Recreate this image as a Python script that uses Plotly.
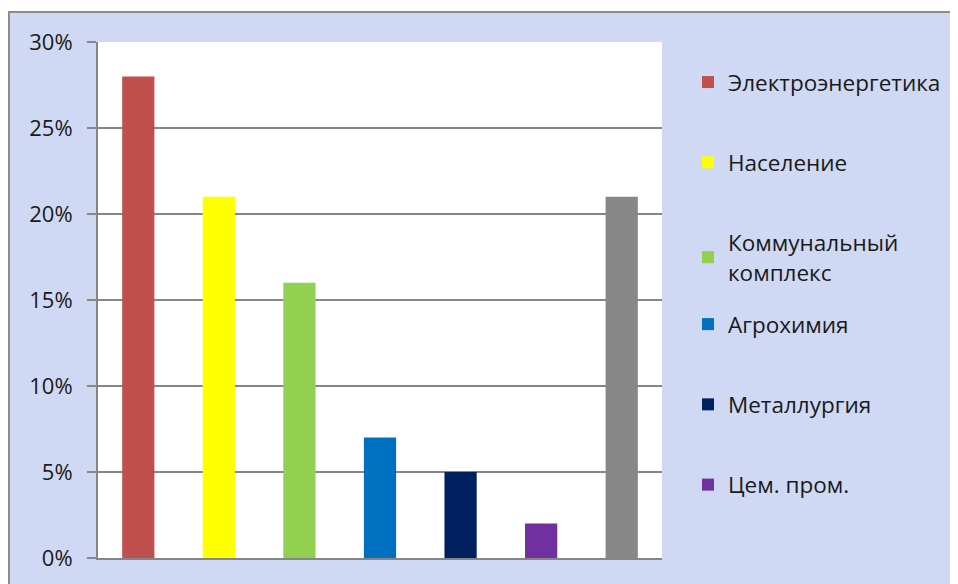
import plotly.graph_objects as go

# данные диаграммы (доли потребления)
categories = ["Электроэнергетика", "Население", "Коммунальный<br>комплекс",
              "Агрохимия", "Металлургия", "Цем. пром.", "Прочее"]
shares = [0.28, 0.21, 0.16, 0.07, 0.05, 0.02, 0.21]
in_legend = [True, True, True, True, True, True, False]

colors = ["#C0504D", "#FFFF00", "#92D050", "#0070C0", "#002060", "#7030A0", "#878787"]

# страница имеет отступ 8px, поэтому фигура чуть меньше окна
OFF = 8
W, H = 958 - OFF, 584 - OFF
L, R, T, B = 98 - OFF, 958 - 662, 42 - OFF, 584 - 560
pw, ph = W - L - R, H - T - B


def px_x(x):
    return (x - OFF - L) / pw


def px_y(y):
    return (H - B - (y - OFF)) / ph


fig = go.Figure()
for i, (cat, val) in enumerate(zip(categories, shares)):
    fig.add_trace(go.Bar(
        x=[cat], y=[val], name=cat,
        marker=dict(color=colors[i], line=dict(width=0)),
        width=0.4,
        showlegend=in_legend[i],
        legendgroup=f"g{i}",
        legend="legend" if i < 3 else "legend2",
    ))

grid = "#868686"
font = dict(family="'Open Sans', Lato, sans-serif", size=22, color="#1a1a1a")
legend_font = dict(font, size=22.5)

fig.update_layout(
    width=W, height=H, autosize=False,
    margin=dict(l=L, r=R, t=T, b=B),
    paper_bgcolor="white",
    plot_bgcolor="white",
    barmode="overlay",
    font=font,
    legend=dict(x=px_x(688), y=px_y(61), xanchor="left", yanchor="top",
                bgcolor="rgba(0,0,0,0)", tracegroupgap=48, font=legend_font),
    legend2=dict(x=px_x(688), y=px_y(304), xanchor="left", yanchor="top",
                 bgcolor="rgba(0,0,0,0)", tracegroupgap=48, font=legend_font),
    shapes=[
        # фон слайда
        dict(type="rect", xref="paper", yref="paper", layer="below",
             x0=px_x(9), x1=px_x(970), y0=px_y(600), y1=px_y(12),
             fillcolor="#cfd9f3", line=dict(color="#8c8c8c", width=2)),
        # белая область построения
        dict(type="rect", xref="paper", yref="paper", layer="below",
             x0=0, x1=1, y0=0, y1=1, fillcolor="white", line=dict(width=0)),
    ],
)

fig.update_xaxes(showticklabels=False, ticks="", showgrid=False,
                 showline=True, linecolor=grid, linewidth=2)
fig.update_yaxes(range=[0, 0.3], dtick=0.05, tickformat=".0%",
                 showgrid=True, gridcolor=grid, gridwidth=2, zeroline=False,
                 showline=True, linecolor=grid, linewidth=2,
                 ticks="outside", ticklen=9, tickwidth=2, tickcolor=grid,
                 ticklabelstandoff=10, tickfont=font)

fig.write_html("out.html")
